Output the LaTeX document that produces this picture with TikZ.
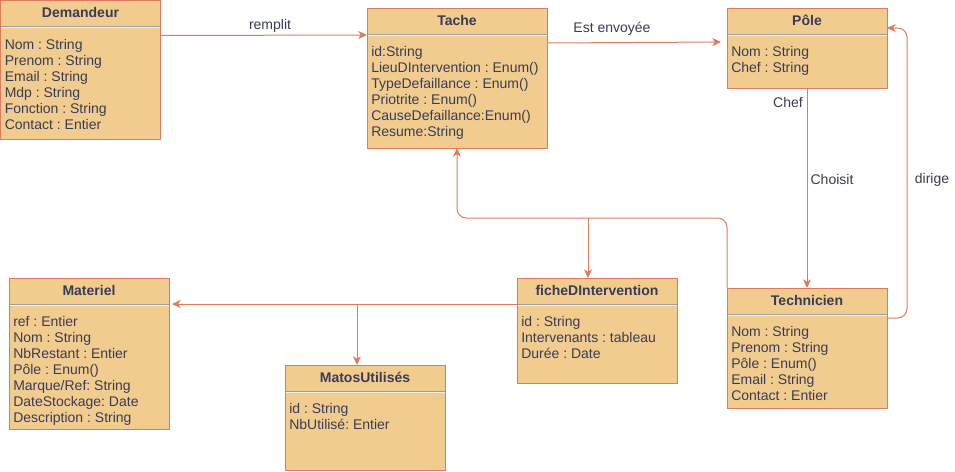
\documentclass[tikz,border=0pt]{standalone}
\usepackage{fontspec}
\setmainfont{Liberation Sans}
\frenchspacing
\usetikzlibrary{calc,arrows.meta}
\definecolor{boxfill}{HTML}{F2CC8F}
\definecolor{boxline}{HTML}{E07A5F}
\definecolor{txt}{HTML}{393C56}
\definecolor{sepgray}{HTML}{9A9CA6}
\definecolor{seplight}{HTML}{F4F1EA}
\tikzset{
  classbox/.style={draw=boxline, fill=boxfill, line width=0.75pt, inner sep=0pt, outer sep=0pt},
  titletext/.style={font=\bfseries\fontsize{10.5pt}{12pt}\selectfont, text=txt, inner sep=0pt},
  attrtext/.style={font=\fontsize{10.5pt}{12pt}\selectfont, text=txt, inner sep=0pt, text height=7.8pt, text depth=2.2pt, anchor=west},
  lbl/.style={font=\fontsize{10.5pt}{12pt}\selectfont, text=txt, inner sep=1pt},
  sepline/.style={draw=sepgray, line width=0.75pt},
  seplight/.style={draw=seplight, line width=0.75pt},
  edge/.style={draw=boxline, line width=0.75pt, -{Stealth[length=6.5pt,width=6pt,inset=1.8pt]}},
}
\newcommand{\umlclass}[7]{%
  \node[classbox, minimum width=#4*0.75pt, minimum height=#5*0.75pt, anchor=north west] (#1) at (#2,#3) {};
  \node[titletext] (#1-title) at ($(#1.north)+(0,12)$) {#6};
  \draw[sepline] ($(#1.north west)+(0.5,26)$) -- ($(#1.north east)+(-0.5,26)$);
  \draw[seplight] ($(#1.north west)+(0.5,27.2)$) -- ($(#1.north east)+(-0.5,27.2)$);
  \foreach \t [count=\i] in {#7} {\node[attrtext] (#1-\i) at ($(#1.north west)+(4,29+16*\i)$) {\t};}
}
\begin{document}
\begin{tikzpicture}[x=0.75pt,y=-0.75pt]
\useasboundingbox (0,0) rectangle (955,471);
\fill[white] (0,0) rectangle (955,471);
\umlclass{dem}{0.5}{0.5}{160}{139}{Demandeur}{Nom : String,Prenom : String,Email : String,Mdp : String,Fonction : String,Contact : Entier}
\umlclass{tache}{367}{8}{180}{140}{Tache}{id:String,LieuDIntervention : Enum(),TypeDefaillance : Enum(),Priotrite : Enum(),CauseDefaillance:Enum(),Resume:String}
\umlclass{pole}{727}{8}{160}{80}{Pôle}{Nom : String,Chef : String}
\umlclass{tech}{727}{288}{160}{120}{Technicien}{Nom : String,Prenom : String,Pôle : Enum(),Email : String,Contact : Entier}
\umlclass{fiche}{517}{278}{160}{105}{ficheDIntervention}{id : String,Intervenants : tableau,Durée : Date}
\umlclass{mat}{9}{278}{160}{151}{Materiel}{ref : Entier,Nom : String,NbRestant : Entier,Pôle : Enum(),Marque/Ref: String,DateStockage: Date,Description : String}
\umlclass{matos}{285}{365}{160}{105}{MatosUtilisés}{id : String,NbUtilisé: Entier}

% Demandeur -> Tache
\draw[edge] ($(dem.north east)+(0,35)$) -- ($(tache.north west)+(0,27)$);
\node[lbl] (l-remplit) at (270,26) {remplit};
% Tache -> Pole
\draw[edge] ($(tache.north west)+(180,35)$) -- ($(pole.north west)+(-6,34)$);
\node[lbl] (l-envoyee) at (612,29) {Est envoyée};
% Pole -> Technicien
\draw[edge] (pole.south) -- (tech.north);
\node[lbl] (l-chef) at (788,102) {Chef};
\node[lbl] (l-choisit) at (832,179) {Choisit};
% Technicien -> Pole (dirige)
\coordinate (d1) at ($(tech.north east)+(20,30)$);
\coordinate (d2) at ($(pole.north east)+(20,20)$);
\draw[edge, rounded corners=7pt] ($(tech.north east)+(0,30)$) -- (d1) -- (d2) -- ($(pole.north east)+(0,20)$);
\node[lbl] (l-dirige) at (932,180) {dirige};
% Technicien -> Tache
\coordinate (t1) at ($(tech.north west)+(0,-70)$);
\coordinate (t2) at (tache.south |- t1);
\draw[edge, rounded corners=7pt] (tech.north west) -- (t1) -- (t2) -- (tache.south);
\coordinate (fb) at ($(fiche.north)+(-9,0)$);
\draw[edge] (fb |- t1) -- (fb);
% fiche -> Materiel
\coordinate (m1) at ($(fiche.north west)+(0,26)$);
\draw[edge] (m1) -- ($(mat.north east)+(3,26)$);
\coordinate (mb) at ($(matos.north)+(-8,0)$);
\draw[edge] (mb |- m1) -- (mb);
\end{tikzpicture}
\end{document}
